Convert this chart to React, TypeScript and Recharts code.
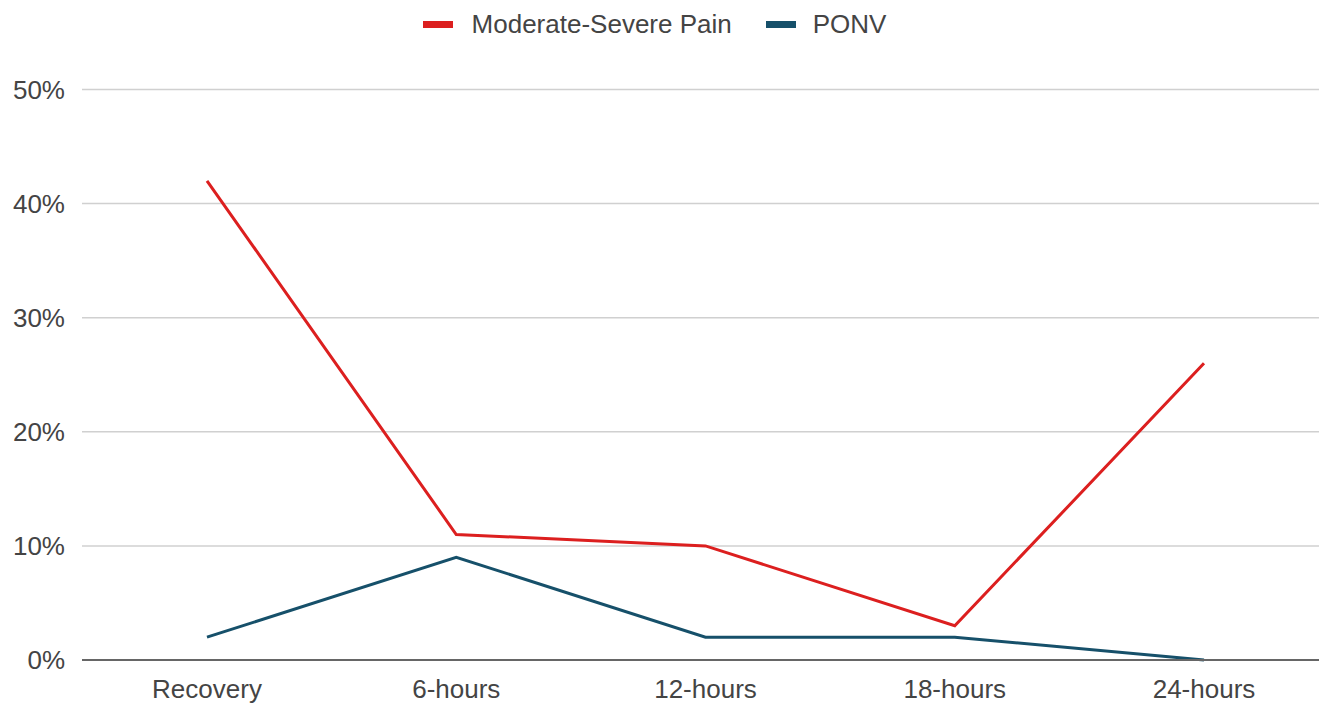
import React from "react";
import { LineChart, Line, XAxis, YAxis, CartesianGrid, Legend } from "recharts";

const categories = ["Recovery", "6-hours", "12-hours", "18-hours", "24-hours"];
const painValues = [42, 11, 10, 3, 26];
const ponvValues = [2, 9, 2, 2, 0];
const yTicks = [0, 10, 20, 30, 40, 50];

const PAIN_COLOR = "#dc1f1f";
const PONV_COLOR = "#16506a";
const FONT = "Liberation Sans, Arial, sans-serif";

const data = categories.map((c, i) => ({
  name: c,
  pain: painValues[i],
  ponv: ponvValues[i],
}));

const LegendContent = () => (
  <div
    style={{
      display: "flex",
      justifyContent: "center",
      alignItems: "center",
      fontFamily: FONT,
      fontSize: 26,
      color: "#444",
      paddingRight: 10,
      height: 30,
    }}
  >
    <span style={{ display: "inline-block", width: 30, height: 7, background: PAIN_COLOR, marginRight: 19 }} />
    <span style={{ marginRight: 34 }}>Moderate-Severe Pain</span>
    <span style={{ display: "inline-block", width: 30, height: 7, background: PONV_COLOR, marginRight: 17 }} />
    <span>PONV</span>
  </div>
);

export default function App() {
  return (
    <div style={{ position: "absolute", left: 0, top: 0, width: 1319, height: 704, background: "#fff" }}>
      <LineChart
        width={1319}
        height={704}
        data={data}
        margin={{ top: 59.5, right: 0, bottom: 14, left: 0 }}
      >
        <CartesianGrid vertical={false} stroke="#d0d0d0" strokeWidth={1.5} />
        <XAxis
          dataKey="name"
          padding={{ left: 125, right: 115 }}
          height={30}
          tickSize={0}
          tickMargin={20}
          axisLine={{ stroke: "#666", strokeWidth: 2 }}
          tick={{ fill: "#444", fontSize: 26, fontFamily: FONT }}
          interval={0}
        />
        <YAxis
          domain={[0, 50]}
          ticks={yTicks}
          width={82}
          tickSize={0}
          tickMargin={17}
          axisLine={false}
          tickFormatter={(v: number) => `${v}%`}
          tick={{ fill: "#444", fontSize: 26, fontFamily: FONT }}
        />
        <Legend
          verticalAlign="top"
          wrapperStyle={{ top: 9, left: 0, width: 1319 }}
          content={<LegendContent />}
        />
        <Line
          type="linear"
          dataKey="pain"
          name="Moderate-Severe Pain"
          stroke={PAIN_COLOR}
          strokeWidth={3}
          dot={false}
          isAnimationActive={false}
        />
        <Line
          type="linear"
          dataKey="ponv"
          name="PONV"
          stroke={PONV_COLOR}
          strokeWidth={3}
          dot={false}
          isAnimationActive={false}
        />
      </LineChart>
    </div>
  );
}
